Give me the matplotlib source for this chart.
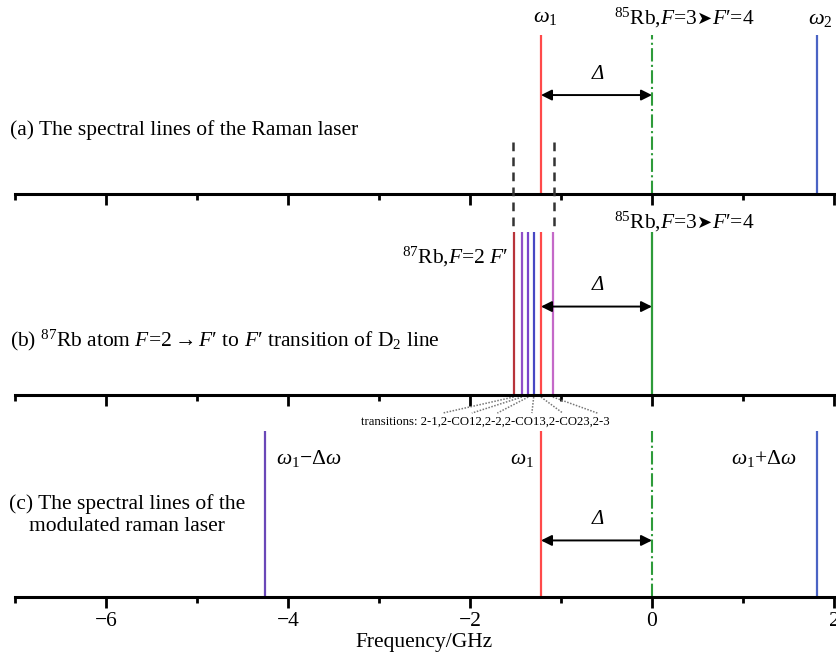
"""Spectral lines of the Raman laser and the Rb D2 transitions."""

import matplotlib
matplotlib.use("Agg")
from matplotlib import pyplot as plt

plt.rcParams['font.family'] = ['Liberation Serif', 'DejaVu Sans']
plt.rcParams['mathtext.fontset'] = 'custom'
plt.rcParams['mathtext.rm'] = 'Liberation Serif'
plt.rcParams['mathtext.it'] = 'Liberation Serif:italic'
plt.rcParams['mathtext.bf'] = 'Liberation Serif:bold'

# frequencies in GHz, relative to 85Rb F=3 -> F'=4
omega1 = -1.22
delta_omega = 3.03
rb85_line = 0.0
d2_lines = [-1.52, -1.43, -1.36, -1.30, -1.22, -1.09]
d2_colors = ['#b8343a', '#9150c8', '#7a44cc', '#4848c4', '#ff4a4a', '#c469c8']
d2_names = ['2-1', '2-CO12', '2-2', '2-CO13', '2-CO23', '2-3']
dashed_bounds = [-1.53, -1.08]
# where the dotted leaders meet the label
leader_ends = [-2.30, -1.98, -1.70, -1.32, -0.98, -0.60]

major_ticks = [-6, -4, -2, 0, 2]
minor_ticks = [-7, -5, -3, -1, 1]

RED = '#ff4a4a'
BLUE = '#4a63c4'
GREEN = '#2e9b3a'
PURPLE = '#6a48b8'
FS = 15.5
PRIME = '\u2032'

W, H = 836, 659
fig = plt.figure(figsize=(W / 100, H / 100), dpi=100)


def panel(top_px, bottom_px):
    ax = fig.add_axes([15 / W, 1 - bottom_px / H, (834 - 15) / W,
                       (bottom_px - top_px) / H])
    ax.set_xlim(-7, 2)
    ax.set_ylim(0, 1)
    for s in ['top', 'left', 'right']:
        ax.spines[s].set_visible(False)
    ax.spines['bottom'].set_linewidth(2.2)
    ax.set_yticks([])
    ax.set_xticks(major_ticks)
    ax.set_xticks(minor_ticks, minor=True)
    ax.tick_params(axis='x', which='major', direction='out', length=8, width=2)
    ax.tick_params(axis='x', which='minor', direction='out', length=4.5, width=2)
    ax.patch.set_alpha(0)
    return ax


def delta_arrow(ax, y, ytext):
    ax.annotate('', xy=(rb85_line, y), xytext=(omega1, y),
                arrowprops=dict(arrowstyle='<|-|>', color='k', lw=1.4,
                                shrinkA=0, shrinkB=0, mutation_scale=16))
    ax.text(-0.59, ytext, 'Δ', style='italic', fontsize=15,
            ha='center', va='center')


def rb85_label(ax, x, y):
    t1 = ax.text(x, y, r'$^{85}$Rb,$F$=3', fontsize=15.5, va='baseline')
    t2 = ax.annotate('\u27a4', xy=(1, y), xycoords=(t1, 'data'),
                     fontsize=13, family='DejaVu Sans', va='baseline',
                     annotation_clip=False)
    ax.annotate(r'$F$' + PRIME + '=4', xy=(1, y), xycoords=(t2, 'data'),
                fontsize=15.5, va='baseline', annotation_clip=False)


# (a) Raman laser
ax_a = panel(0, 194)
ax_a.set_xticklabels([])
ax_a.vlines(omega1, 0, 0.82, color=RED, lw=1.6)
ax_a.vlines(omega1 + delta_omega, 0, 0.82, color=BLUE, lw=1.6)
ax_a.vlines(rb85_line, 0, 0.82, color=GREEN, lw=1.5, linestyles='-.')
delta_arrow(ax_a, 0.51, 0.615)
ax_a.text(omega1 + 0.05, 0.887, r'$\omega_1$', fontsize=16,
          ha='center', va='baseline')
ax_a.text(omega1 + delta_omega + 0.04, 0.877, r'$\omega_2$', fontsize=16,
          ha='center', va='baseline')
rb85_label(ax_a, -0.42, 0.875)
fig.text(10 / W, 1 - 130 / H, '(a) The spectral lines of the Raman laser',
         fontsize=FS, va='center')

# (b) 87Rb D2 transitions
ax_b = panel(194, 395)
ax_b.set_xticklabels([])
for x, c in zip(d2_lines, d2_colors):
    ax_b.vlines(x, 0, 0.81, color=c, lw=1.6)
ax_b.vlines(rb85_line, 0, 0.81, color=GREEN, lw=1.6)
for x in dashed_bounds:
    ax_b.plot([x, x], [1.26, 0.82], color='#333333', lw=1.8,
              ls=(0, (3.5, 2.5)), clip_on=False)
for x, xe in zip(d2_lines, leader_ends):
    ax_b.plot([x, xe], [-0.01, -0.09], color='#777777', lw=1.1,
              ls=(0, (1, 1)), clip_on=False)
ax_b.text(-3.2, -0.135, 'transitions: ' + ','.join(d2_names), fontsize=9.2,
          va='center', ha='left')
delta_arrow(ax_b, 0.44, 0.545)
rb85_label(ax_b, -0.42, 0.83)
ax_b.text(-1.58, 0.685, r'$^{87}$Rb,$F$=2 $F$' + PRIME, fontsize=FS,
          ha='right', va='center')
fig.text(10 / W, 1 - 340 / H,
         r'(b) $^{87}$Rb atom $F$=2$\rightarrow$$F$' + PRIME + ' to $F$'
         + PRIME + ' transition of D$_2$ line',
         fontsize=FS, va='center')

# (c) modulated Raman laser
ax_c = panel(395, 597)
ax_c.set_xticklabels(['\u22126', '\u22124', '\u22122', '0', '2'])
ax_c.tick_params(axis='x', labelsize=15.5, pad=3)
ax_c.set_xlabel('Frequency/GHz', fontsize=FS, labelpad=1)
ax_c.vlines(omega1 - delta_omega, 0, 0.82, color=PURPLE, lw=1.6)
ax_c.vlines(omega1, 0, 0.82, color=RED, lw=1.6)
ax_c.vlines(omega1 + delta_omega, 0, 0.82, color=BLUE, lw=1.6)
ax_c.vlines(rb85_line, 0, 0.82, color=GREEN, lw=1.5, linestyles='-.')
delta_arrow(ax_c, 0.28, 0.385)
ax_c.text(omega1 - delta_omega + 0.12, 0.66, r'$\omega_1$$-$$\Delta\omega$',
          fontsize=15.5, ha='left', va='baseline')
ax_c.text(omega1 - 0.08, 0.66, r'$\omega_1$', fontsize=15.5,
          ha='right', va='baseline')
ax_c.text(omega1 + delta_omega - 0.22, 0.66, r'$\omega_1$+$\Delta\omega$',
          fontsize=15.5, ha='right', va='baseline')
fig.text(127 / W, 1 - 515 / H,
         '(c) The spectral lines of the\nmodulated raman laser',
         fontsize=FS, ha='center', va='center', multialignment='center',
         linespacing=1.25)

fig.savefig('out.png', dpi=100)
